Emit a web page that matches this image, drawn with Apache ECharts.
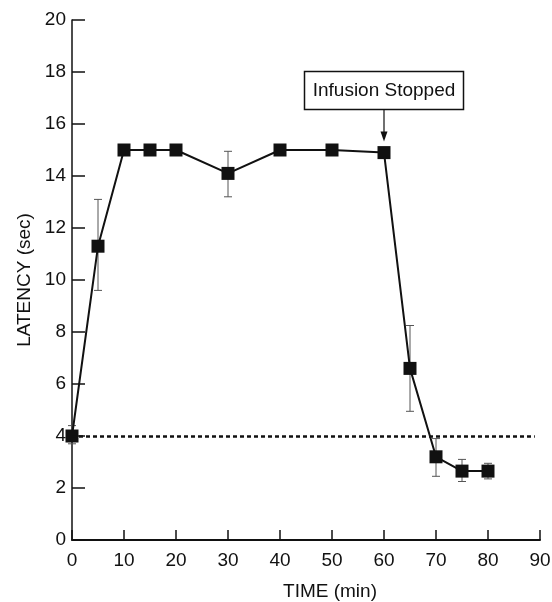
<!DOCTYPE html>
<html>
<head>
<meta charset="utf-8">
<script src="https://cdn.jsdelivr.net/npm/echarts@6/dist/echarts.min.js"></script>
<style>
  html, body { margin: 0; padding: 0; background: #fff; }
  #chart { width: 552px; height: 602px; }
</style>
</head>
<body>
<div id="chart"></div>
<script>
// time (min) and mean latency (sec) with error bar limits
const times = [0, 5, 10, 15, 20, 30, 40, 50, 60, 65, 70, 75, 80]
const latency = [4.0, 11.3, 15.0, 15.0, 15.0, 14.1, 15.0, 15.0, 14.9, 6.6, 3.2, 2.65, 2.65]
const errHigh = [4.4, 13.1, 15.0, 15.0, 15.0, 14.95, 15.0, 15.0, 14.9, 8.25, 3.9, 3.1, 2.95]
const errLow = [3.7, 9.6, 15.0, 15.0, 15.0, 13.2, 15.0, 15.0, 14.9, 4.95, 2.45, 2.25, 2.35]
const baseline = 4
const baselineEnd = 89
const annotationAt = [60, 14.9]
const annotationText = 'Infusion Stopped'

const font = 'Liberation Sans, Arial, Helvetica, sans-serif'
const chart = echarts.init(document.getElementById('chart'))

const errData = times.map((t, i) => [t, errLow[i], errHigh[i]])

chart.setOption({
  animation: false,
  grid: { left: 72, right: 12, top: 20, bottom: 62, outerBoundsMode: 'none' },
  xAxis: {
    type: 'value',
    min: 0,
    max: 90,
    interval: 10,
    name: 'TIME (min)',
    nameLocation: 'middle',
    nameGap: 42,
    nameTextStyle: { fontFamily: font, fontSize: 19, color: '#111', padding: [0, 0, 0, 48] },
    axisLine: { lineStyle: { color: '#111', width: 2 } },
    axisTick: { inside: true, length: 10, lineStyle: { color: '#111', width: 1.5 } },
    axisLabel: { fontFamily: font, fontSize: 19, color: '#111', margin: 11 },
    splitLine: { show: false }
  },
  yAxis: {
    type: 'value',
    min: 0,
    max: 20,
    interval: 2,
    name: 'LATENCY (sec)',
    nameLocation: 'middle',
    nameGap: 38,
    nameTextStyle: { fontFamily: font, fontSize: 19, color: '#111' },
    axisLine: { show: true, lineStyle: { color: '#111', width: 1.5 } },
    axisTick: { show: true, inside: true, length: 13, lineStyle: { color: '#111', width: 1.5 } },
    axisLabel: { fontFamily: font, fontSize: 19, color: '#111', margin: 6 },
    splitLine: { show: false }
  },
  series: [
    {
      type: 'custom',
      data: errData,
      z: 1,
      renderItem: function (params, api) {
        const x = api.coord([api.value(0), api.value(1)])[0]
        const lo = api.coord([api.value(0), api.value(1)])[1]
        const hi = api.coord([api.value(0), api.value(2)])[1]
        const w = 4
        const style = { stroke: '#555', lineWidth: 1 }
        return {
          type: 'group',
          children: [
            { type: 'line', shape: { x1: x, y1: lo, x2: x, y2: hi }, style: style },
            { type: 'line', shape: { x1: x - w, y1: lo, x2: x + w, y2: lo }, style: style },
            { type: 'line', shape: { x1: x - w, y1: hi, x2: x + w, y2: hi }, style: style }
          ]
        }
      }
    },
    {
      type: 'line',
      data: times.map((t, i) => [t, latency[i]]),
      symbol: 'rect',
      symbolSize: 13,
      z: 3,
      lineStyle: { color: '#111', width: 2 },
      itemStyle: { color: '#111' },
      markLine: {
        silent: true,
        symbol: 'none',
        label: { show: false },
        lineStyle: { color: '#111', width: 2.5, type: [4, 3] },
        data: [[{ coord: [0, baseline] }, { coord: [baselineEnd, baseline] }]]
      }
    },
    {
      type: 'custom',
      data: [annotationAt],
      z: 4,
      renderItem: function (params, api) {
        const p = api.coord([api.value(0), api.value(1)])
        const boxW = 159
        const boxH = 38
        const bottom = p[1] - 43
        const tip = p[1] - 11
        return {
          type: 'group',
          children: [
            {
              type: 'rect',
              shape: { x: p[0] - boxW / 2, y: bottom - boxH, width: boxW, height: boxH },
              style: { fill: '#fff', stroke: '#111', lineWidth: 1.5 }
            },
            {
              type: 'text',
              style: {
                x: p[0], y: bottom - boxH / 2,
                text: annotationText,
                align: 'center', verticalAlign: 'middle',
                font: '19px ' + font,
                fill: '#111'
              }
            },
            { type: 'line', shape: { x1: p[0], y1: bottom, x2: p[0], y2: tip - 6 }, style: { stroke: '#111', lineWidth: 1.2 } },
            {
              type: 'polygon',
              shape: { points: [[p[0] - 3.5, tip - 10], [p[0] + 3.5, tip - 10], [p[0], tip]] },
              style: { fill: '#111' }
            }
          ]
        }
      }
    }
  ]
})
</script>
</body>
</html>
